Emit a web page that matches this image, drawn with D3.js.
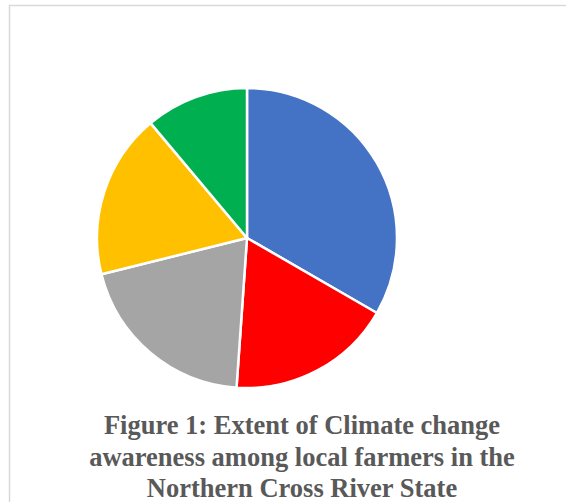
<!DOCTYPE html>
<html>
<head>
<meta charset="utf-8">
<script src="https://cdn.jsdelivr.net/npm/d3@7"></script>
<style>
  html, body { margin: 0; padding: 0; background: #fff; overflow: hidden; }
</style>
</head>
<body>
<div id="chart"></div>
<script>
// awareness levels (no legend in the picture, names are a guess)
const categories = ["Very aware", "Aware", "Moderately aware", "Slightly aware", "Not aware"];
const counts = [30, 16, 18, 16, 10];
const colors = ["#4472c4", "#ff0000", "#a5a5a5", "#ffc000", "#00b050"];
const titleLines = [
    "Figure 1: Extent of Climate change",
    "awareness among local farmers in the",
    "Northern Cross River State"
];

const width = 566, height = 502;

const svg = d3.select("#chart")
    .append("svg")
    .attr("width", width)
    .attr("height", height);

// chart border (cropped on right and bottom)
svg.append("rect")
    .attr("x", 9.5)
    .attr("y", 5.5)
    .attr("width", 620)
    .attr("height", 560)
    .attr("fill", "none")
    .attr("stroke", "#d9d9d9")
    .attr("stroke-width", 1.5);

const data = categories.map((c, i) => ({ name: c, value: counts[i] }));

const pie = d3.pie()
    .value(d => d.value)
    .sort(null);

const arc = d3.arc()
    .innerRadius(0)
    .outerRadius(150);

const g = svg.append("g")
    .attr("transform", "translate(247,238)");

g.selectAll("path")
    .data(pie(data))
    .enter()
    .append("path")
    .attr("d", arc)
    .attr("fill", (d, i) => colors[i])
    .attr("stroke", "#fff")
    .attr("stroke-width", 2.5)
    .attr("stroke-linejoin", "round");

// title under the pie
svg.append("g")
    .selectAll("text")
    .data(titleLines)
    .enter()
    .append("text")
    .attr("x", 302)
    .attr("y", (d, i) => 434 + i * 31.5)
    .attr("text-anchor", "middle")
    .attr("font-family", "'Liberation Serif', 'Times New Roman', serif")
    .attr("font-weight", "bold")
    .attr("font-size", "26.5px")
    .attr("fill", "#595959")
    .text(d => d);
</script>
</body>
</html>
